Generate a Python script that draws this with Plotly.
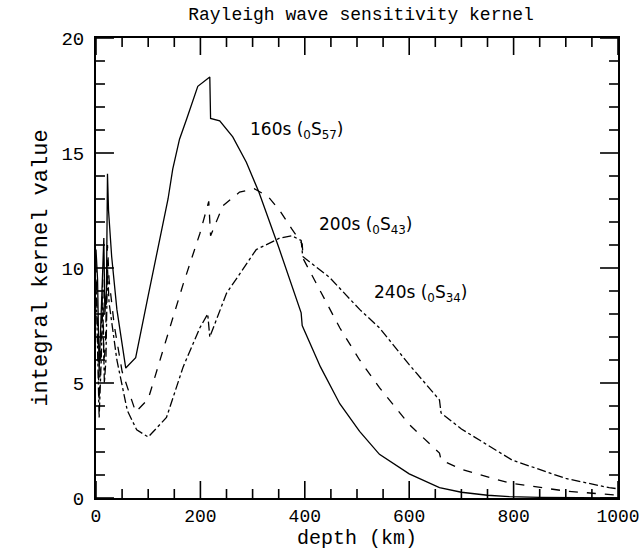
import plotly.graph_objects as go

# depth (km) / kernel values
depth_160 = [0, 3, 6, 9, 12, 15, 17, 20, 22, 24, 30, 40, 57, 76, 100, 120, 138, 147, 160, 174, 195, 218, 219.5,
             237, 262, 288, 312, 350, 393, 395, 430, 467, 505, 543, 600, 658, 700, 750, 792, 850, 1000]
kern_160 = [10.8, 9.5, 5.5, 7.5, 10.0, 11.3, 8.0, 9.0, 14.1, 12.5, 10.5, 8.2, 5.65, 6.1, 8.8, 11.0, 13.0, 14.3, 15.6, 16.5,
            17.9, 18.3, 16.5, 16.4, 15.7, 14.6, 13.3, 10.9, 8.05, 7.5, 5.7, 4.1, 2.9, 1.9, 1.05, 0.45, 0.25, 0.12, 0.06, 0.03, 0.0]

depth_200 = [0, 3, 6, 10, 13, 15, 18, 22, 25, 35, 50, 76, 100, 128, 167, 199, 216, 219.5, 243, 275, 303, 330, 352, 375,
             395, 397, 447, 467, 505, 543, 600, 658, 661, 700, 792, 900, 1000]
kern_200 = [10.2, 6.5, 4.2, 7.0, 9.5, 6.0, 6.5, 11.0, 9.5, 7.5, 5.5, 3.74, 4.3, 6.4, 9.3, 11.5, 12.9, 11.4, 12.7, 13.3,
            13.45, 13.1, 12.5, 11.7, 11.05, 10.4, 8.3, 7.4, 6.0, 4.8, 3.2, 1.95, 1.65, 1.25, 0.65, 0.3, 0.12]

depth_240 = [0, 3, 6, 10, 13, 16, 19, 22, 25, 40, 60, 78, 100, 135, 167, 199, 214, 218, 250, 307, 352, 375, 393, 396,
             447, 505, 543, 600, 658, 661, 700, 797, 900, 983, 1000]
kern_240 = [9.5, 6.0, 3.5, 6.0, 8.5, 5.0, 6.0, 10.0, 8.5, 6.0, 3.8, 2.96, 2.65, 3.5, 5.7, 7.4, 8.0, 7.0, 8.9, 10.8, 11.3,
            11.4, 11.2, 10.5, 9.6, 8.2, 7.4, 5.8, 4.26, 3.7, 3.0, 1.65, 0.85, 0.45, 0.4]

labels = ["160s (<sub>0</sub>S<sub>57</sub>)", "200s (<sub>0</sub>S<sub>43</sub>)", "240s (<sub>0</sub>S<sub>34</sub>)"]
label_x = [291, 423, 528]
label_y = [16.0, 11.85, 8.9]

x_major = [0, 200, 400, 600, 800, 1000]
x_minor = [v for v in range(0, 1001, 50) if v not in x_major]
y_major = [0, 5, 10, 15, 20]
y_minor = [v for v in range(0, 21) if v not in y_major]

mono = "Liberation Mono"

fig = go.Figure()
for d, k, dash in [(depth_160, kern_160, "solid"), (depth_200, kern_200, "dash"), (depth_240, kern_240, "dashdot")]:
    fig.add_trace(go.Scatter(x=d, y=k, mode="lines", line=dict(color="black", width=1.3, dash=dash),
                             showlegend=False, hoverinfo="skip"))

for t, x, y in zip(labels, label_x, label_y):
    fig.add_annotation(x=x, y=y, text=t, showarrow=False, xanchor="left", yanchor="middle",
                       font=dict(family="DejaVu Sans", size=17, color="black"))

# inside tick marks on all four sides, built from the tick value lists as one line trace
dx_per_px = 1000 / 523.0   # x data units per pixel of plot width
dy_per_px = 20 / 460.0     # y data units per pixel of plot height
tx, ty = [], []
for vals, length in [(x_major, 17), (x_minor, 9)]:
    for v in vals:
        tx += [v, v, None, v, v, None]
        ty += [0, length * dy_per_px, None, 20, 20 - length * dy_per_px, None]
for vals, length in [(y_major, 18), (y_minor, 9)]:
    for v in vals:
        tx += [0, length * dx_per_px, None, 1000, 1000 - length * dx_per_px, None]
        ty += [v, v, None, v, v, None]
fig.add_trace(go.Scatter(x=tx, y=ty, mode="lines", line=dict(color="black", width=1.6),
                         showlegend=False, hoverinfo="skip", connectgaps=False, cliponaxis=False))

fig.update_layout(
    width=639, height=550,
    margin=dict(l=96, r=21, t=38, b=52, autoexpand=False),
    paper_bgcolor="white", plot_bgcolor="white",
    title=dict(text="Rayleigh wave sensitivity kernel", x=0.565, xanchor="center", y=0.975, yanchor="middle",
               font=dict(family=mono, size=18, color="black")),
    xaxis=dict(range=[0, 1000], tickmode="array", tickvals=x_major, ticks="",
               showline=True, linecolor="black", linewidth=2,
               mirror=True, showgrid=False, zeroline=False, automargin=False, ticklabeloverflow="allow",
               tickfont=dict(family=mono, size=18, color="black"),
               title=dict(text="depth (km)", standoff=0, font=dict(family=mono, size=20, color="black"))),
    yaxis=dict(range=[0, 20], tickmode="array", tickvals=y_major, ticks="",
               showline=True, linecolor="black", linewidth=2, ticklabelstandoff=6,
               mirror=True, showgrid=False, zeroline=False, automargin=False,
               tickfont=dict(family=mono, size=19, color="black"),
               title=dict(text="integral kernel value", standoff=8, font=dict(family=mono, size=22, color="black"))),
)
fig.write_html("out.html")
